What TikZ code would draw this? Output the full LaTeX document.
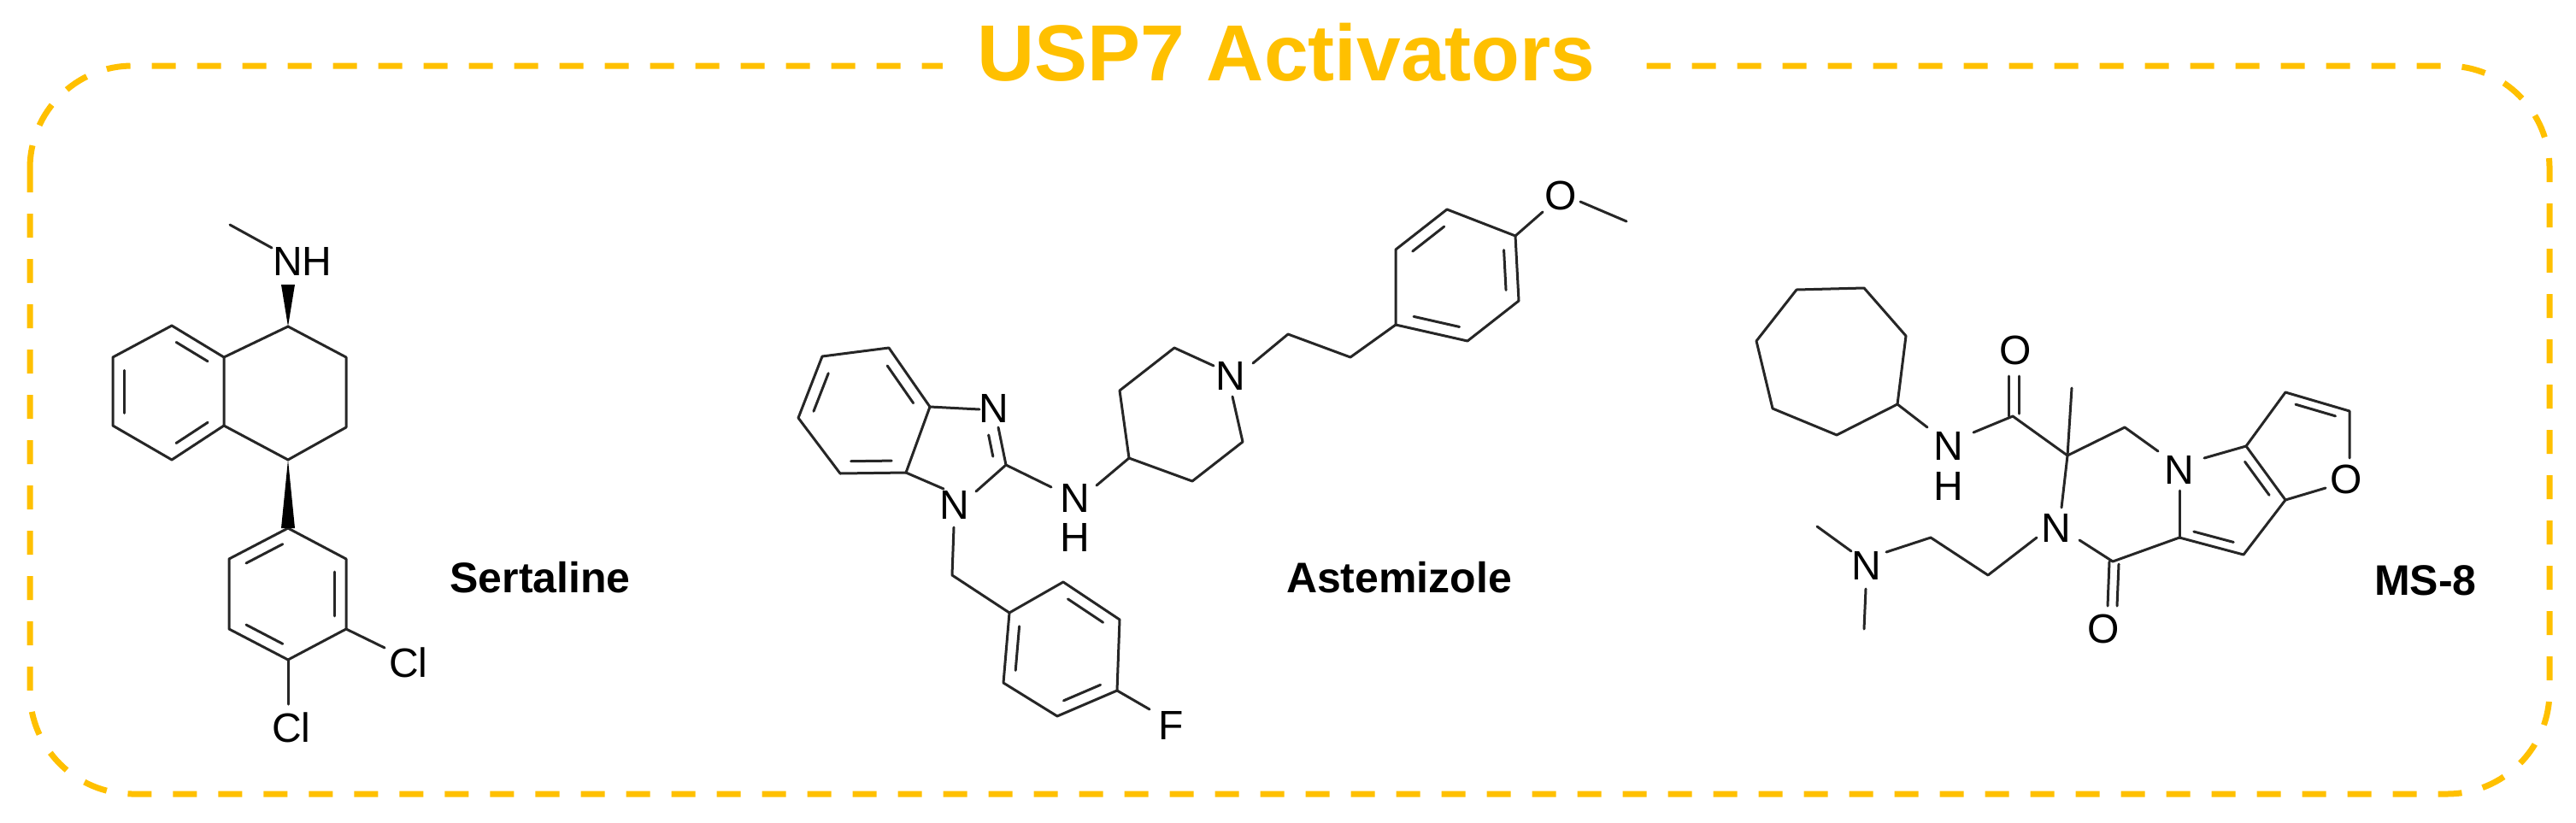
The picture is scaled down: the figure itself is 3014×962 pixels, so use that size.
\documentclass[tikz,border=0pt]{standalone}
\usepackage{fontspec}
\setmainfont{Liberation Sans}
\usetikzlibrary{calc}
\definecolor{usp}{HTML}{FFC000}
\newcommand\dbl[3]{\path coordinate (dbA) at ($(#1)!.2!(#3)$) coordinate (dbB) at ($(#2)!.2!(#3)$);
  \draw[bond,shorten <=7pt,shorten >=7pt] (dbA) -- (dbB);}
\newcommand\wedgebond[2]{\fill (#1) -- ($(#2)+(-8,0)$) -- ($(#2)+(8,0)$) -- cycle;}
\begin{document}
\begin{tikzpicture}[x=1pt,y=-1pt,
  bond/.style={line width=3pt,line cap=round,line join=round,draw=black!85},
  atom/.style={font=\fontsize{48}{56}\selectfont,inner sep=0pt},
  molname/.style={font=\fontsize{50}{60}\selectfont\bfseries,inner sep=0pt},
  borderline/.style={draw=usp,line width=7pt,dash pattern=on 28pt off 25pt}]
\useasboundingbox (0,0) rectangle (3014,962);
\draw[borderline,rounded corners=120pt] (35,77) rectangle (2983,929);
\node[fill=white,inner xsep=40pt,inner ysep=10pt,text=usp,font=\fontsize{93}{100}\selectfont\bfseries] (title) at (1505,61) {USP7 Activators};

% ---------- Sertaline ----------
\coordinate (sMe) at (269,263);
\node[atom] (sN) at (354,306) {NH};
\coordinate (sNb) at (337,333);
\coordinate (sC1) at (337,382);
\coordinate (a1) at (201,381); \coordinate (a2) at (262,418); \coordinate (a3) at (262,498);
\coordinate (a4) at (201,538); \coordinate (a5) at (132,498); \coordinate (a6) at (132,418);
\coordinate (aC) at (197,460);
\coordinate (b2) at (405,418); \coordinate (b3) at (405,500); \coordinate (sC4) at (337,538);
\coordinate (p1) at (337,618); \coordinate (p2) at (405,654); \coordinate (p3) at (405,736);
\coordinate (p4) at (337,772); \coordinate (p5) at (268,736); \coordinate (p6) at (268,654);
\coordinate (pC) at (337,695);
\coordinate (sCl1b) at (450,758); \coordinate (sCl2b) at (337,824);
\node[atom] (sCl1) at (478,775) {Cl};
\node[atom] (sCl2) at (341,851) {Cl};
\draw[bond] (sMe) -- (318,290);
\draw[bond] (a1)--(a2)--(a3)--(a4)--(a5)--(a6)--cycle;
\draw[bond] (a2)--(sC1)--(b2)--(b3)--(sC4)--(a3);
\draw[bond] (p1)--(p2)--(p3)--(p4)--(p5)--(p6)--cycle;
\draw[bond] (p3)--(sCl1b); \draw[bond] (p4)--(sCl2b);
\dbl{a1}{a2}{aC} \dbl{a5}{a6}{aC} \dbl{a3}{a4}{aC}
\dbl{p6}{p1}{pC} \dbl{p2}{p3}{pC} \dbl{p4}{p5}{pC}
\wedgebond{sC1}{sNb}
\wedgebond{sC4}{p1}
\node[molname] (sName) at (632,676) {Sertaline};

% ---------- Astemizole ----------
\coordinate (e1) at (1040,407); \coordinate (e2) at (1088,476); \coordinate (e3) at (1060,553);
\coordinate (e4) at (983,554); \coordinate (e5) at (934,489); \coordinate (e6) at (962,417);
\coordinate (eC) at (1011,483);
\node[atom] (aN3) at (1163,478) {N};
\node[atom] (aN1) at (1117,591) {N};
\coordinate (aC2) at (1177,544);
\coordinate (iC) at (1121,528);
\node[atom] (aNH) at (1258,583) {N};
\node[atom] (aH) at (1258,629) {H};
\coordinate (q1) at (1321,536); \coordinate (q2) at (1310,457); \coordinate (q3) at (1374,407);
\node[atom] (aNp) at (1440,440) {N};
\coordinate (q5) at (1454,517); \coordinate (q6) at (1395,563);
\coordinate (ch1) at (1507,391); \coordinate (ch2) at (1580,418);
\coordinate (r1) at (1633,380); \coordinate (r2) at (1633,292); \coordinate (r3) at (1693,245);
\coordinate (r4) at (1773,276); \coordinate (r5) at (1777,352); \coordinate (r6) at (1717,399);
\coordinate (rC) at (1704,324);
\node[atom] (aO) at (1826,229) {O};
\coordinate (aMe) at (1903,259);
\coordinate (bz) at (1114,673);
\coordinate (f1) at (1181,717); \coordinate (f2) at (1244,681); \coordinate (f3) at (1310,725);
\coordinate (f4) at (1307,808); \coordinate (f5) at (1237,838); \coordinate (f6) at (1174,799);
\coordinate (fC) at (1242,761);
\node[atom] (aF) at (1370,849) {F};
\draw[bond] (e1)--(e2)--(e3)--(e4)--(e5)--(e6)--cycle;
\dbl{e1}{e2}{eC} \dbl{e3}{e4}{eC} \dbl{e5}{e6}{eC}
\draw[bond] (e2) -- (1146,479);
\draw[bond] (e3) -- (1104,572);
\draw[bond] (1168,500) -- (aC2) -- (1142,575);
\path coordinate (dbA) at ($(1168,500)!.25!(iC)$) coordinate (dbB) at ($(aC2)!.25!(iC)$);
\draw[bond,shorten <=2pt,shorten >=6pt] (dbA) -- (dbB);
\draw[bond] (aC2) -- (1230,570);
\draw[bond] (1283,568) -- (q1);
\draw[bond] (q1)--(q2)--(q3)--(1420,428);
\draw[bond] (1442,464)--(q5)--(q6)--(q1);
\draw[bond] (1466,425)--(ch1)--(ch2)--(r1);
\draw[bond] (r1)--(r2)--(r3)--(r4)--(r5)--(r6)--cycle;
\dbl{r2}{r3}{rC} \dbl{r4}{r5}{rC} \dbl{r6}{r1}{rC}
\draw[bond] (r4) -- (1805,248);
\draw[bond] (1849,236) -- (aMe);
\draw[bond] (1116,617) -- (bz) -- (f1);
\draw[bond] (f1)--(f2)--(f3)--(f4)--(f5)--(f6)--cycle;
\dbl{f6}{f1}{fC} \dbl{f2}{f3}{fC} \dbl{f4}{f5}{fC}
\draw[bond] (f4) -- (1345,830);
\node[molname] (aName) at (1637,676) {Astemizole};

% ---------- MS-8 ----------
\coordinate (h1) at (2102,339); \coordinate (h2) at (2181,337); \coordinate (h3) at (2230,393);
\coordinate (h4) at (2220,473); \coordinate (h5) at (2149,509); \coordinate (h6) at (2074,478);
\coordinate (h7) at (2055,399);
\draw[bond] (h1)--(h2)--(h3)--(h4)--(h5)--(h6)--(h7)--cycle;
\node[atom] (mN) at (2280,522) {N};
\node[atom] (mH) at (2280,569) {H};
\coordinate (mCO) at (2355,487);
\node[atom] (mO1) at (2358,410) {O};
\coordinate (mQ) at (2419,533);
\coordinate (mMe) at (2424,454);
\coordinate (mCH) at (2486,500);
\node[atom] (mN4) at (2550,550) {N};
\node[atom] (mN2) at (2406,618) {N};
\coordinate (mC1) at (2472,657);
\node[atom] (mO2) at (2461,736) {O};
\coordinate (m8a) at (2550,629);
\coordinate (ma) at (2628,522); \coordinate (mb) at (2674,585); \coordinate (mc) at (2625,649);
\coordinate (pyC) at (2600,585);
\coordinate (md) at (2674,459); \coordinate (me) at (2749,481);
\node[atom] (mO3) at (2745,561) {O};
\coordinate (fuC) at (2700,520);
\coordinate (s1) at (2326,673); \coordinate (s2) at (2259,629);
\node[atom] (mNm) at (2184,662) {N};
\draw[bond] (h4) -- (2255,500);
\draw[bond] (2309,506) -- (mCO) -- (mQ) -- (mCH) -- (2525,528);
\draw[bond] (2350,487) -- (2350,440);
\draw[bond] (2362,484) -- (2362,440);
\draw[bond] (mQ) -- (mMe);
\draw[bond] (mQ) -- (2412,594);
\draw[bond] (2433,632) -- (mC1) -- (m8a);
\draw[bond] (2468,657) -- (2466,709);
\draw[bond] (2479,660) -- (2477,709);
\draw[bond] (2550,574) -- (m8a);
\draw[bond] (2579,536) -- (ma) -- (mb) -- (mc) -- (m8a);
\dbl{ma}{mb}{pyC} \dbl{mc}{m8a}{pyC}
\draw[bond] (ma) -- (md) -- (me) -- (2749,536);
\draw[bond] (2721,571) -- (mb);
\dbl{md}{me}{fuC}
\draw[bond] (2383,629) -- (s1) -- (s2) -- (2207,646);
\draw[bond] (2166,645) -- (2126,616);
\draw[bond] (2183,689) -- (2181,736);
\node[molname] (mName) at (2838,679) {MS-8};
\end{tikzpicture}
\end{document}
